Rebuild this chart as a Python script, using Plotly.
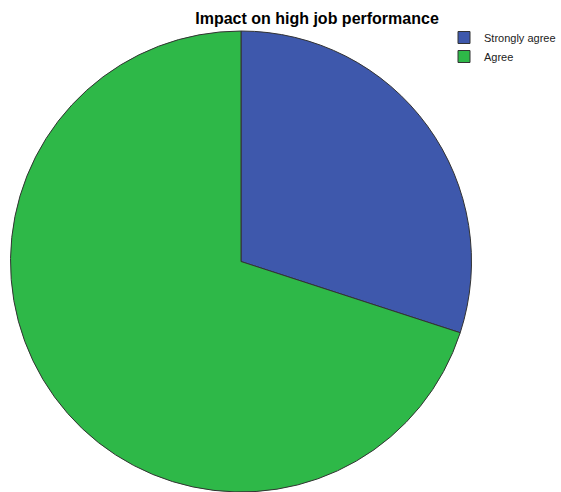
import plotly.graph_objects as go

categories = ["Strongly agree", "Agree"]
values = [30, 70]
colors = ["#3e58ac", "#2eb848"]

W, H = 561, 492
cx, r, top = 241, 231, 31

fig = go.Figure(go.Pie(
    labels=categories,
    values=values,
    sort=False,
    direction="clockwise",
    rotation=0,
    textinfo="none",
    hoverinfo="skip",
    marker=dict(colors=colors, line=dict(color="#333333", width=1)),
    domain=dict(x=[(cx - r) / W, (cx + r) / W], y=[0, (H - top) / H]),
))

fig.update_layout(
    width=W, height=H,
    margin=dict(l=0, r=0, t=0, b=0, autoexpand=False),
    paper_bgcolor="white",
    plot_bgcolor="white",
    font=dict(family="Liberation Sans, Arial, sans-serif", color="black"),
    title=dict(text="<b>Impact on high job performance</b>", x=317 / W, xanchor="center",
               y=1 - 18 / H, yanchor="middle", font=dict(size=16, color="black")),
    legend=dict(x=1, y=1 - 23 / H, xanchor="right", yanchor="top",
                font=dict(size=11, color="#222222"), itemwidth=30,
                tracegroupgap=0, bgcolor="rgba(0,0,0,0)"),
)

fig.write_html("out.html")
